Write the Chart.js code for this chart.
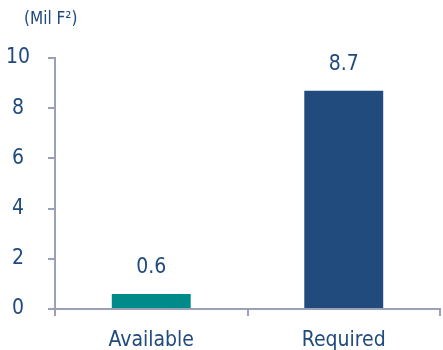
<!DOCTYPE html>
<html>
<head>
<meta charset="utf-8">
<script src="https://cdn.jsdelivr.net/npm/chart.js@4.4.0/dist/chart.umd.min.js"></script>
<style>
  html, body { margin: 0; padding: 0; background: #fff; }
  #wrap { width: 443px; height: 350px; position: relative; }
</style>
</head>
<body>
<div id="wrap"><canvas id="chart"></canvas></div>
<script>
// data
const categories = ['Available', 'Required'];
const values = [0.6, 8.7];
const barColors = ['#008b8b', '#214a7d'];
const yTicks = [0, 2, 4, 6, 8, 10];
const unitLabel = '(Mil F\u00B2)';

const FONT = '"Liberation Sans Narrow", "DejaVu Sans Condensed", "Liberation Sans", sans-serif';
const NAVY = '#214a7d';
const AXIS = '#9aa0b8';

// value labels above bars + unit label
const labelPlugin = {
    id: 'labels',
    afterDatasetsDraw(chart) {
        const ctx = chart.ctx;
        const meta = chart.getDatasetMeta(0);
        ctx.save();
        ctx.fillStyle = NAVY;
        ctx.font = '21px ' + FONT;
        ctx.textAlign = 'center';
        ctx.textBaseline = 'bottom';
        meta.data.forEach((bar, i) => {
            ctx.fillText(values[i].toFixed(1), bar.x, bar.y - 16);
        });
        ctx.font = '17px ' + FONT;
        ctx.textAlign = 'left';
        ctx.textBaseline = 'middle';
        ctx.fillText(unitLabel, 24, 20);
        ctx.restore();
    }
};

new Chart(document.getElementById('chart'), {
    type: 'bar',
    data: {
        labels: categories,
        datasets: [{
            data: values,
            backgroundColor: barColors,
            borderWidth: 0,
            categoryPercentage: 0.41,
            barPercentage: 1
        }]
    },
    options: {
        responsive: true,
        maintainAspectRatio: false,
        animation: false,
        layout: { padding: { top: 58, right: 3, left: 0, bottom: 0 } },
        plugins: {
            legend: { display: false },
            tooltip: { enabled: false }
        },
        scales: {
            x: {
                offset: true,
                grid: {
                    offset: true,
                    display: true,
                    drawOnChartArea: false,
                    drawTicks: true,
                    tickLength: 7,
                    color: AXIS,
                    lineWidth: 2
                },
                border: { color: AXIS, width: 2 },
                ticks: { color: NAVY, font: { family: FONT, size: 21 }, padding: 12 },
                afterFit(scale) { scale.height = 41; }
            },
            y: {
                min: 0,
                max: 10,
                afterBuildTicks(scale) { scale.ticks = yTicks.map(v => ({ value: v })); },
                grid: {
                    drawOnChartArea: false,
                    drawTicks: true,
                    tickLength: 7,
                    color: AXIS,
                    lineWidth: 2
                },
                border: { color: AXIS, width: 2 },
                ticks: {
                    color: NAVY,
                    font: { family: FONT, size: 21 },
                    crossAlign: 'center',
                    padding: 18
                },
                afterFit(scale) { scale.width = 55; }
            }
        }
    },
    plugins: [labelPlugin]
});
</script>
</body>
</html>
